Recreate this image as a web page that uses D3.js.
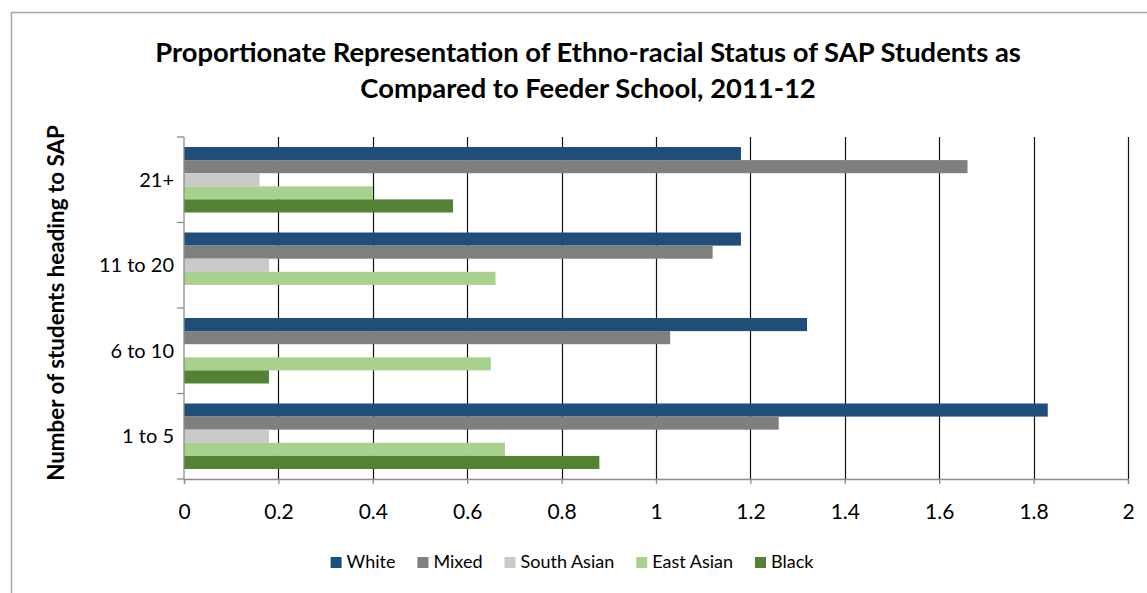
<!DOCTYPE html>
<html>
<head>
<meta charset="utf-8">
<script src="https://cdn.jsdelivr.net/npm/d3@7"></script>
<style>
  html, body { margin: 0; padding: 0; background: #fff; }
  svg { display: block; font-family: Lato, "Open Sans", sans-serif; }
</style>
</head>
<body>
<svg id="chart" width="1147" height="593"></svg>
<script>
// Ratio of each group's share among SAP students to its share in the feeder school
const categories = ["1 to 5", "6 to 10", "11 to 20", "21+"];
const seriesNames = ["White", "Mixed", "South Asian", "East Asian", "Black"];
const seriesColors = ["#1F4E79", "#7F7F7F", "#C9C9C9", "#A9D18E", "#548235"];
const white      = [1.83, 1.32, 1.18, 1.18];
const mixed      = [1.26, 1.03, 1.12, 1.66];
const southAsian = [0.18, 0,    0.18, 0.16];
const eastAsian  = [0.68, 0.65, 0.66, 0.40];
const black      = [0.88, 0.18, 0,    0.57];
const xTicks = [0, 0.2, 0.4, 0.6, 0.8, 1, 1.2, 1.4, 1.6, 1.8, 2];

const titleLines = [
  "Proportionate Representation of Ethno-racial Status of SAP Students as",
  "Compared to Feeder School, 2011-12"
];
const yTitle = "Number of students heading to SAP";

const seriesValues = [white, mixed, southAsian, eastAsian, black];
const rows = categories.map((c, i) => ({
  category: c,
  values: seriesNames.map((s, j) => ({ series: s, value: seriesValues[j][i], color: seriesColors[j] }))
}));

const svg = d3.select("#chart");
const plot = { left: 184, right: 1128, top: 137, bottom: 479 };

svg.append("rect").attr("width", 1147).attr("height", 593).attr("fill", "#fff");
// chart frame
svg.append("rect")
  .attr("x", 11.5).attr("y", 12.5).attr("width", 1200).attr("height", 700)
  .attr("fill", "none").attr("stroke", "#a6a6a6").attr("stroke-width", 1.5);

const x = d3.scaleLinear().domain([0, 2]).range([plot.left, plot.right]);
// categories read bottom-up
const y = d3.scaleBand().domain(categories.slice().reverse()).range([plot.top, plot.bottom]).padding(0);
const gap = y.bandwidth() * 0.117;
const ySeries = d3.scaleBand().domain(seriesNames).range([gap, y.bandwidth() - gap]).padding(0);

// vertical gridlines
svg.append("g").selectAll("line")
  .data(xTicks.filter(t => t > 0))
  .join("line")
  .attr("x1", d => Math.round(x(d)) + 0.5).attr("x2", d => Math.round(x(d)) + 0.5)
  .attr("y1", plot.top).attr("y2", plot.bottom)
  .attr("stroke", "#111").attr("stroke-width", 1.2);

// bars
const groups = svg.append("g").selectAll("g")
  .data(rows)
  .join("g")
  .attr("transform", d => `translate(0,${y(d.category)})`);
groups.selectAll("rect")
  .data(d => d.values.filter(v => v.value > 0))
  .join("rect")
  .attr("x", x(0))
  .attr("y", d => ySeries(d.series))
  .attr("width", d => x(d.value) - x(0))
  .attr("height", ySeries.bandwidth())
  .attr("fill", d => d.color);

// x axis
const xAxis = d3.axisBottom(x).tickValues(xTicks).tickSize(5).tickPadding(20)
  .tickFormat(d => String(d));
const gx = svg.append("g").attr("transform", `translate(0,${plot.bottom})`).call(xAxis);
gx.select(".domain").attr("stroke", "#8c8c8c").attr("stroke-width", 1.3);
gx.selectAll(".tick line").attr("stroke", "#8c8c8c").attr("stroke-width", 1.3);
gx.selectAll(".tick text").attr("font-size", 21).attr("fill", "#000")
  .attr("font-family", "Lato, sans-serif");

// y axis: ticks at category boundaries
const gy = svg.append("g");
gy.append("line")
  .attr("x1", plot.left).attr("x2", plot.left)
  .attr("y1", plot.top).attr("y2", plot.bottom)
  .attr("stroke", "#8c8c8c").attr("stroke-width", 1.3);
const boundaries = y.domain().map(c => y(c)).concat([plot.bottom]);
gy.selectAll("line.tick")
  .data(boundaries)
  .join("line").attr("class", "tick")
  .attr("x1", plot.left - 7).attr("x2", plot.left)
  .attr("y1", d => d).attr("y2", d => d)
  .attr("stroke", "#8c8c8c").attr("stroke-width", 1.3);
gy.selectAll("text")
  .data(categories)
  .join("text")
  .attr("x", 174)
  .attr("y", d => y(d) + y.bandwidth() / 2)
  .attr("dy", "0.35em")
  .attr("text-anchor", "end")
  .attr("font-size", 20)
  .attr("fill", "#000")
  .text(d => d);

// y axis title, sized to span the plot height
const yt = svg.append("text")
  .attr("transform", "translate(64,303) rotate(-90)")
  .attr("text-anchor", "middle")
  .attr("font-size", 18)
  .attr("font-weight", "bold")
  .attr("fill", "#000")
  .text(yTitle);
yt.attr("font-size", 18 * 356 / yt.node().getComputedTextLength());

// title
const titleG = svg.append("g");
const t1 = titleG.append("text")
  .attr("x", 588).attr("y", 62)
  .attr("text-anchor", "middle").attr("font-weight", "bold").attr("font-size", 24)
  .attr("fill", "#000").text(titleLines[0]);
const w1 = t1.node().getComputedTextLength();
const titleSize = 24 * 866 / w1;
t1.attr("font-size", titleSize);
titleG.append("text")
  .attr("x", 588).attr("y", 98)
  .attr("text-anchor", "middle").attr("font-weight", "bold").attr("font-size", titleSize)
  .attr("fill", "#000").text(titleLines[1]);

// legend
const legend = svg.append("g");
const items = legend.selectAll("g")
  .data(seriesNames.map((s, i) => ({ name: s, color: seriesColors[i] })))
  .join("g");
items.append("rect").attr("width", 11).attr("height", 11).attr("y", -11)
  .attr("fill", d => d.color);
items.append("text").attr("x", 16).attr("y", 0).attr("font-size", 18).attr("fill", "#000")
  .text(d => d.name);
let cursor = 0;
const positions = [];
items.each(function () {
  positions.push(cursor);
  const w = d3.select(this).select("text").node().getComputedTextLength();
  cursor += 16 + w + 22;
});
const totalW = cursor - 22;
const startX = 572 - totalW / 2;
items.attr("transform", (d, i) => `translate(${startX + positions[i]},568)`);
</script>
</body>
</html>
